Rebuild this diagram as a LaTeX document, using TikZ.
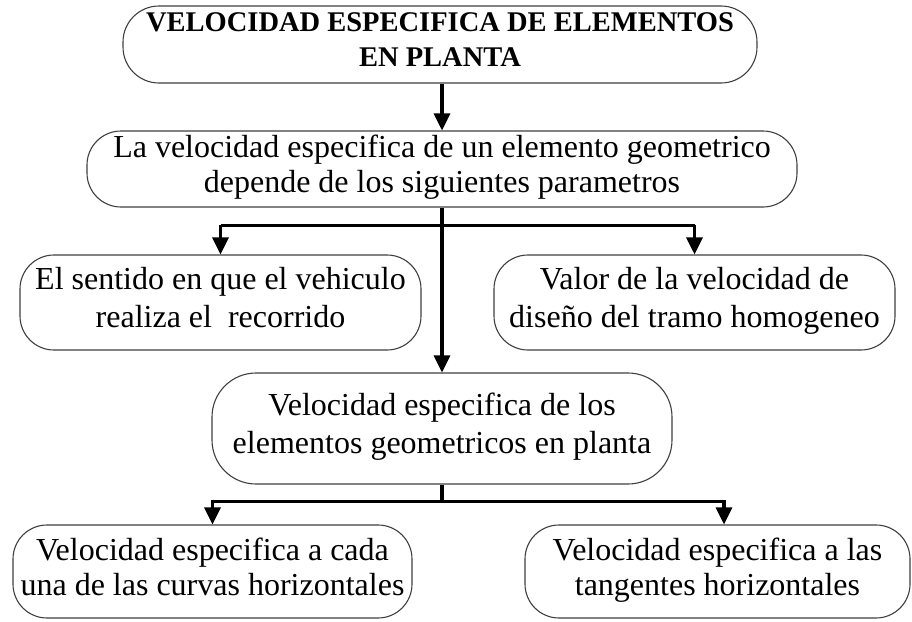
\documentclass[tikz,border=0pt]{standalone}
\usepackage{fontspec}
\setmainfont{Liberation Serif}
\usetikzlibrary{arrows.meta,calc}
\tikzset{
  box/.style={draw=black!75, line width=1.1pt, rounded corners=#1, inner sep=0pt, align=center,
              font=\fontsize{32}{35}\selectfont},
  box/.default=33pt,
  txt/.style={execute at begin node={\rule{0pt}{#1}},
              execute at end node={\rule[-10.5pt]{0pt}{1pt}}},
  conn/.style={line width=3.2pt, -{Triangle[width=16pt,length=17pt]}},
  plain/.style={line width=3.2pt}
}
\begin{document}
\begin{tikzpicture}[x=1pt,y=-1pt]
\fill[white] (0,0) rectangle (912,621);
\useasboundingbox (0,0) rectangle (912,621);

\node[box=36pt, txt=26.5pt, minimum width=634pt, minimum height=77pt, font=\fontsize{28.5}{35}\selectfont\bfseries]
  (t) at (440,44.5) {VELOCIDAD ESPECIFICA DE ELEMENTOS\\EN PLANTA};
\node[box=34pt, txt=33.5pt, minimum width=710pt, minimum height=76pt]
  (b2) at (442,169) {La velocidad especifica de un elemento geometrico\\depende de los siguientes parametros};
\node[box=34pt, txt=26.9pt, minimum width=401pt, minimum height=95pt, font=\fontsize{32}{38}\selectfont]
  (b3a) at (220.5,302.5) {El sentido en que el vehiculo\\realiza el\ \ recorrido};
\node[box=34pt, txt=26.9pt, minimum width=401pt, minimum height=95pt, font=\fontsize{32}{38}\selectfont]
  (b3b) at (694.5,302.5) {Valor de la velocidad de\\diseño del tramo homogeneo};
\node[box=44pt, txt=28.1pt, minimum width=460pt, minimum height=111pt, font=\fontsize{32}{38}\selectfont]
  (b4) at (442,428.5) {Velocidad especifica de los\\elementos geometricos en planta};
\node[box=34pt, txt=32.5pt, minimum width=399pt, minimum height=93pt]
  (b5a) at (212.5,571.5) {Velocidad especifica a cada\\una de las curvas horizontales};
\node[box=34pt, txt=32.5pt, minimum width=385pt, minimum height=93pt]
  (b5b) at (717.5,571.5) {Velocidad especifica a las\\tangentes horizontales};

% connectors
\draw[conn] (t.south -| b2.north) -- (b2.north);
\draw[conn] (b2.south) -- (b4.north);
\coordinate (j1) at ($(b2.south)!0.375!(b2.south |- b3a.north)$);
\draw[plain] (j1 -| b3a.north) -- (j1 -| b3b.north);
\draw[conn] (j1 -| b3a.north) -- (b3a.north);
\draw[conn] (j1 -| b3b.north) -- (b3b.north);
\draw[plain] (b4.south) -- ++(0,17) coordinate (j2);
\draw[conn] (j2) -| (b5a.north);
\draw[conn] (j2) -| ([xshift=6.5pt]b5b.north);
\end{tikzpicture}
\end{document}
